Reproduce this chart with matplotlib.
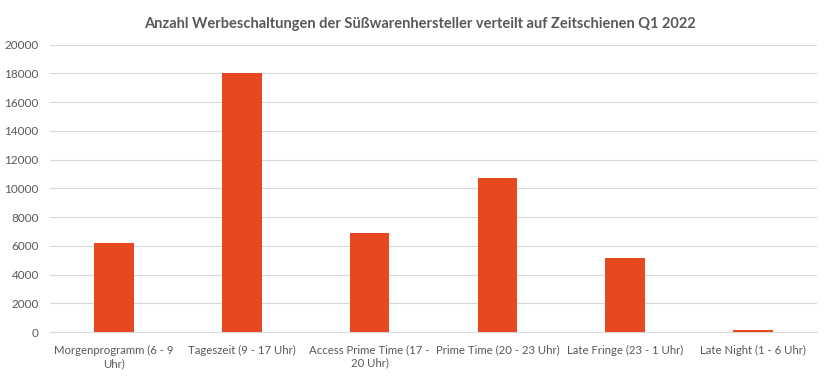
import matplotlib.pyplot as plt

plt.rcParams['font.family'] = ['Lato', 'DejaVu Sans']

# Zeitschienen und Anzahl Werbeschaltungen
categories = ['Morgenprogramm (6 - 9\nUhr)', 'Tageszeit (9 - 17 Uhr)', 'Access Prime Time (17 -\n20 Uhr)',
              'Prime Time (20 - 23 Uhr)', 'Late Fringe (23 - 1 Uhr)', 'Late Night (1 - 6 Uhr)']
values = [6200, 18000, 6900, 10750, 5150, 120]
yticks = list(range(0, 20001, 2000))

text_color = '#595959'
bar_color = '#E8481F'

fig, ax = plt.subplots(figsize=(8.32, 3.79), dpi=100)
fig.subplots_adjust(left=0.06, right=0.982, top=0.882, bottom=0.124)

x = range(len(categories))
ax.bar(x, values, width=0.31, color=bar_color, zorder=3)

ax.set_ylim(0, 20000)
ax.set_xlim(-0.5, len(categories) - 0.5)
ax.set_yticks(yticks)
ax.set_xticks(list(x))
ax.set_xticklabels(categories, fontsize=8.2, color=text_color, linespacing=1.25)
ax.tick_params(axis='y', labelsize=8.5, labelcolor=text_color, length=0, pad=8)
ax.tick_params(axis='x', length=0, pad=9)

ax.grid(axis='y', color='#D9D9D9', linewidth=0.8, zorder=0)
for s in ['top', 'right', 'left']:
    ax.spines[s].set_visible(False)
ax.spines['bottom'].set_color('#D9D9D9')

fig.suptitle('Anzahl Werbeschaltungen der Süßwarenhersteller verteilt auf Zeitschienen Q1 2022',
             fontsize=10.5, fontweight='bold', color=text_color, x=0.505, y=0.955)

fig.savefig('out.png', dpi=100)
